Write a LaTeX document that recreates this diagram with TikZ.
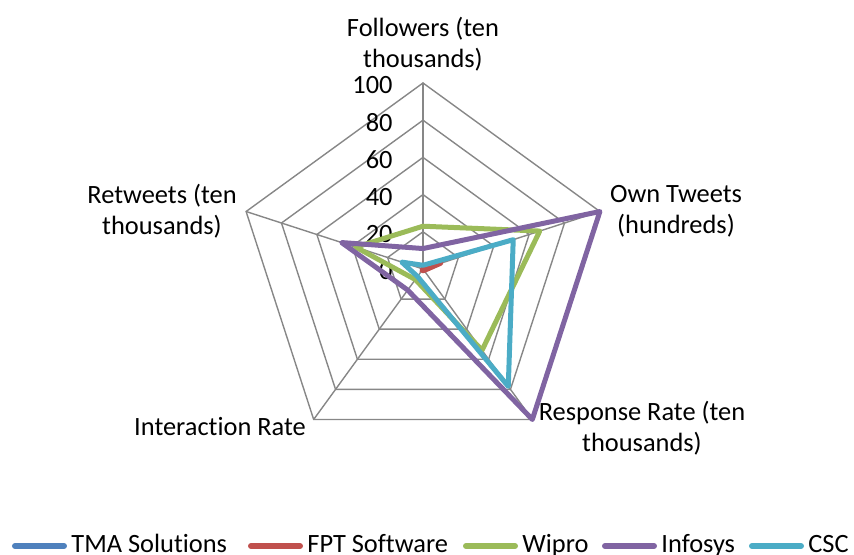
\documentclass[tikz,border=0pt]{standalone}
\usepackage{fontspec}
\setmainfont{Carlito}[Ligatures=NoCommon]
\usetikzlibrary{positioning}
\definecolor{gridgray}{HTML}{878787}
\definecolor{tmablue}{HTML}{4F81BD}
\definecolor{fptred}{HTML}{C0504D}
\definecolor{wiprogreen}{HTML}{9BBB59}
\definecolor{infosyspurple}{HTML}{8064A2}
\definecolor{cscaqua}{HTML}{4BACC6}
\begin{document}
\begin{tikzpicture}[x=0.5pt,y=0.5pt, font=\fontsize{13.2}{15.5}\selectfont, line join=round, line cap=round,
	grid/.style={gridgray,line width=0.7pt},
	series/.style={line width=2.5pt},
	legline/.style={line width=3pt},
	axislabel/.style={align=center,inner sep=0pt}]
	\def\R{186} % ban kinh
	\useasboundingbox (-423,-286) rectangle (431,269);
	
	% luoi
	\foreach \k in {1,...,5}
	\draw[grid] (90:{\k*\R/5}) -- (18:{\k*\R/5}) -- (-54:{\k*\R/5}) -- (-126:{\k*\R/5}) -- (162:{\k*\R/5}) -- cycle;
	\foreach \a in {90,18,-54,-126,162}
	\draw[grid] (0,0) -- (\a:\R);
	
	% gia tri truc
	\foreach \v in {0,20,...,100}
	\node[anchor=east,inner sep=0pt] (tick\v) at (-30,{\v/100*\R-2}) {\v};
	
	% nhan
	\node[axislabel] (followers) at (0,225) {Followers (ten\\thousands)};
	\node[axislabel] (owntweets) at (253,58) {Own Tweets\\(hundreds)};
	\node[axislabel] (response) at (219,-159) {Response Rate (ten\\thousands)};
	\node[axislabel,anchor=base] (interaction) at (-203,-166) {Interaction Rate};
	\node[axislabel] (retweets) at (-261,58) {Retweets (ten\\thousands)};
	
	% du lieu
	\foreach \col/\va/\vb/\vc/\vd/\ve in {tmablue/1/1/1/0/0, fptred/0/10/1/1/0, wiprogreen/23/66/54/7/38, infosyspurple/11/100/100/14/46, cscaqua/2/51/78/5/12}
	\draw[series,draw=\col] (90:{\va/100*\R}) -- (18:{\vb/100*\R}) -- (-54:{\vc/100*\R}) -- (-126:{\vd/100*\R}) -- (162:{\ve/100*\R}) -- cycle;
	
	% chu thich
	\foreach \col/\lab/\xs [count=\i] in {tmablue/TMA Solutions/12, fptred/FPT Software/248, wiprogreen/Wipro/463, infosyspurple/Infosys/602, cscaqua/CSC/749}{
		\coordinate (ls\i) at (\xs-423+3,-277);
		\coordinate (le\i) at (\xs-423+52,-277);
		\draw[legline,draw=\col] (ls\i) -- (le\i);
		\node[anchor=base west,inner sep=0pt] (lab\i) at (\xs-423+59,-283) {\lab};
	}
\end{tikzpicture}
\end{document}
